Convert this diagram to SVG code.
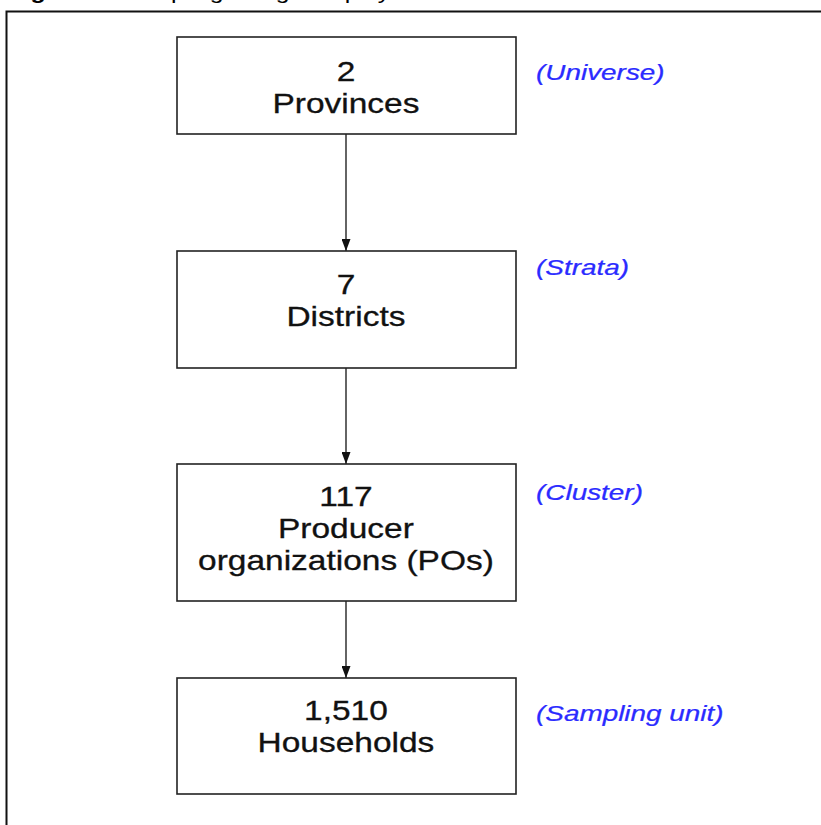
<svg xmlns="http://www.w3.org/2000/svg" width="821" height="825" viewBox="0 0 821 825">
<style>
.box{fill:#fff;stroke:#222;stroke-width:1.6}
.t{font-family:"Liberation Sans",Arial,sans-serif;font-size:27px;fill:#111;stroke:#111;stroke-width:0.3;text-anchor:middle}
.lab{font-family:"Liberation Sans",Arial,sans-serif;font-size:22.5px;font-style:italic;fill:#2b2bff;stroke:#2b2bff;stroke-width:0.25}
.ttl{font-family:"Liberation Sans",Arial,sans-serif;font-size:20px;fill:#000}
.conn{stroke:#111;stroke-width:1.3;fill:none}
</style>
<defs>
<marker id="ah" viewBox="0 0 12 9" refX="12" refY="4.5" markerWidth="12" markerHeight="9" markerUnits="userSpaceOnUse" orient="auto">
<path d="M0,0 L12,4.5 L0,9 z" fill="#111"/>
</marker>
</defs>
<rect width="821" height="825" fill="#fff"/>
<g id="title" transform="scale(1.24 1)">
<text class="ttl" x="6.9" y="-1.5"><tspan font-weight="bold">Figure 1:</tspan> Sampling design employed</text>
</g>
<rect id="frame" x="6.5" y="11.5" width="830" height="830" fill="none" stroke="#111" stroke-width="2"/>
<g id="connectors">
<line class="conn" x1="346" y1="134" x2="346" y2="251" marker-end="url(#ah)"/>
<line class="conn" x1="346" y1="368" x2="346" y2="464" marker-end="url(#ah)"/>
<line class="conn" x1="346" y1="601" x2="346" y2="678" marker-end="url(#ah)"/>
</g>
<g id="n1">
<rect class="box" x="177" y="37" width="339" height="97"/>
<g transform="scale(1.24 1)"><text class="t" x="279" y="81">2</text><text class="t" x="279" y="113">Provinces</text></g>
</g>
<g id="n2">
<rect class="box" x="177" y="251" width="339" height="117"/>
<g transform="scale(1.24 1)"><text class="t" x="279" y="294">7</text><text class="t" x="279" y="326">Districts</text></g>
</g>
<g id="n3">
<rect class="box" x="177" y="464" width="339" height="137"/>
<g transform="scale(1.24 1)"><text class="t" x="279" y="506">117</text><text class="t" x="279" y="538">Producer</text><text class="t" x="279" y="570">organizations (POs)</text></g>
</g>
<g id="n4">
<rect class="box" x="177" y="678" width="339" height="116"/>
<g transform="scale(1.24 1)"><text class="t" x="279" y="720">1,510</text><text class="t" x="279" y="752">Households</text></g>
</g>
<g id="labels" transform="scale(1.24 1)">
<text class="lab" x="432.3" y="80">(Universe)</text>
<text class="lab" x="432.3" y="275">(Strata)</text>
<text class="lab" x="432.3" y="500">(Cluster)</text>
<text class="lab" x="432.3" y="721">(Sampling unit)</text>
</g>
</svg>
